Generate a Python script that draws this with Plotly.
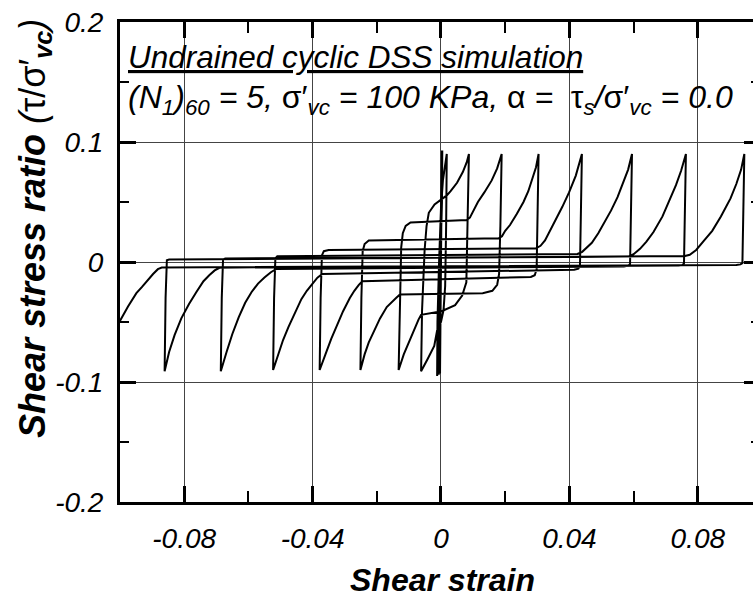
import plotly.graph_objects as go

# ---- data: shear strain vs shear stress ratio ----
# one line per half-cycle
strain = [
    0.0000, 0.0001, 0.0002, 0.0003,
    0.0002, 0.0000, -0.0002, -0.0003,
    -0.0002, 0.0000, 0.0002, 0.0003,
    0.0002, -0.0001, -0.0003, -0.0005,
    -0.0004, -0.0001, 0.0002, 0.0003,
    0.0002, -0.0002, -0.0005, -0.0007,
    -0.0006, -0.0002, 0.0002, 0.0004,
    0.0003, -0.0002, -0.0006, -0.0009,
    -0.0008, -0.0003, 0.0001, 0.0004,
    0.0003, -0.0003, -0.0008, -0.0012,
    -0.0011, -0.0006, 0.0000, 0.0006, 0.0012, 0.0018,
    0.0016, 0.0013, 0.0008, 0.0000, -0.0012, -0.0021, -0.0042, -0.0062,
    -0.0059, -0.0056, -0.0051, -0.0045, -0.0038, -0.0020, 0.0003, 0.0018, 0.0030, 0.0050, 0.0068, 0.0080, 0.0087,
    0.0083, 0.0081, 0.0079, 0.0066, 0.0044, 0.0002, -0.0062, -0.0070, -0.0085, -0.0100, -0.0116, -0.0132,
    -0.0128, -0.0126, -0.0124, -0.0119, -0.0110, -0.0095, 0.0080, 0.0090, 0.0100, 0.0115, 0.0135, 0.0158, 0.0175, 0.0189,
    0.0185, 0.0183, 0.0181, 0.0175, 0.0160, 0.0130, -0.0128, -0.0140, -0.0152, -0.0169, -0.0190, -0.0210, -0.0225, -0.0238, -0.0251,
    -0.0248, -0.0246, -0.0244, -0.0238, -0.0225, 0.0180, 0.0190, 0.0200, 0.0215, 0.0236, 0.0257, 0.0272, 0.0285, 0.0296, 0.0304,
    0.0300, 0.0299, 0.0298, 0.0292, 0.0280, -0.0245, -0.0256, -0.0270, -0.0284, -0.0305, -0.0325, -0.0342, -0.0360, -0.0378,
    -0.0375, -0.0373, -0.0371, -0.0365, -0.0350, 0.0296, 0.0310, 0.0324, 0.0340, 0.0358, 0.0378, 0.0399, 0.0420, 0.0439,
    0.0435, 0.0434, 0.0433, 0.0428, 0.0415, -0.0370, -0.0385, -0.0400, -0.0418, -0.0435, -0.0455, -0.0475, -0.0492, -0.0508, -0.0523,
    -0.0520, -0.0518, -0.0516, -0.0510, 0.0425, 0.0440, 0.0455, 0.0470, 0.0490, 0.0510, 0.0530, 0.0550, 0.0568, 0.0583, 0.0595,
    0.0591, 0.0590, 0.0589, 0.0584, 0.0570, -0.0513, -0.0530, -0.0550, -0.0570, -0.0590, -0.0610, -0.0630, -0.0650, -0.0668, -0.0686,
    -0.0683, -0.0681, -0.0679, -0.0672, 0.0584, 0.0600, 0.0620, 0.0640, 0.0662, 0.0690, 0.0714, 0.0732, 0.0748, 0.0763,
    0.0759, 0.0758, 0.0757, 0.0752, 0.0740, -0.0690, -0.0705, -0.0722, -0.0740, -0.0762, -0.0785, -0.0809, -0.0830, -0.0847, -0.0861,
    -0.0858, -0.0856, -0.0854, -0.0847, 0.0760, 0.0775, 0.0795, 0.0820, 0.0845, 0.0872, 0.0902, 0.0920, 0.0935, 0.0945,
    0.0941, 0.0940, 0.0939, 0.0933, 0.0920, -0.0870, -0.0882, -0.0897, -0.0915, -0.0932, -0.0949, -0.0975, -0.1002, -0.1030,
]
stress = [
    0.000, 0.045, 0.075, 0.093,
    0.050, 0.000, -0.050, -0.093,
    -0.050, 0.000, 0.050, 0.093,
    0.050, 0.000, -0.050, -0.093,
    -0.050, 0.000, 0.050, 0.093,
    0.050, 0.000, -0.050, -0.094,
    -0.050, 0.000, 0.050, 0.093,
    0.050, 0.000, -0.050, -0.094,
    -0.050, 0.000, 0.050, 0.093,
    0.050, 0.000, -0.050, -0.095,
    -0.050, 0.000, 0.045, 0.068, 0.081, 0.090,
    0.030, -0.020, -0.040, -0.050, -0.057, -0.070, -0.081, -0.091,
    -0.040, -0.015, 0.010, 0.030, 0.041, 0.048, 0.053, 0.0555, 0.059, 0.066, 0.075, 0.083, 0.090,
    0.030, -0.010, -0.017, -0.028, -0.036, -0.041, -0.044, -0.048, -0.057, -0.066, -0.077, -0.090,
    -0.030, 0.000, 0.012, 0.024, 0.030, 0.033, 0.035, 0.037, 0.042, 0.050, 0.058, 0.068, 0.078, 0.090,
    0.030, 0.000, -0.010, -0.019, -0.024, -0.026, -0.027, -0.030, -0.033, -0.0375, -0.047, -0.058, -0.067, -0.077, -0.090,
    -0.030, 0.000, 0.009, 0.015, 0.018, 0.0197, 0.0215, 0.026, 0.0308, 0.040, 0.050, 0.059, 0.069, 0.079, 0.090,
    0.030, 0.000, -0.006, -0.011, -0.0125, -0.016, -0.019, -0.024, -0.030, -0.041, -0.053, -0.064, -0.077, -0.090,
    -0.030, 0.000, 0.0055, 0.009, 0.010, 0.0114, 0.0135, 0.018, 0.026, 0.035, 0.046, 0.058, 0.072, 0.090,
    0.030, 0.000, -0.003, -0.0055, -0.0065, -0.010, -0.013, -0.018, -0.024, -0.031, -0.042, -0.054, -0.065, -0.077, -0.090,
    -0.030, 0.000, 0.003, 0.0048, 0.0067, 0.0085, 0.012, 0.016, 0.024, 0.033, 0.043, 0.054, 0.066, 0.077, 0.090,
    0.030, 0.000, -0.0015, -0.003, -0.0038, -0.0058, -0.0085, -0.013, -0.018, -0.025, -0.034, -0.046, -0.060, -0.075, -0.091,
    -0.030, 0.000, 0.0022, 0.0030, 0.0044, 0.0065, 0.011, 0.017, 0.025, 0.038, 0.052, 0.064, 0.076, 0.090,
    0.030, 0.000, -0.0012, -0.0025, -0.0030, -0.0048, -0.007, -0.011, -0.016, -0.025, -0.035, -0.047, -0.061, -0.075, -0.091,
    -0.030, 0.000, 0.0014, 0.0020, 0.0050, 0.0060, 0.0100, 0.018, 0.026, 0.038, 0.053, 0.065, 0.077, 0.090,
    0.030, 0.000, -0.001, -0.002, -0.0025, -0.0046, -0.006, -0.010, -0.016, -0.021, -0.026, -0.037, -0.050, -0.066,
]

x_tick_vals = [-0.08, -0.04, 0, 0.04, 0.08]
x_tick_text = ["-0.08", "-0.04", "0", "0.04", "0.08"]
x_minor_vals = [-0.06, -0.02, 0.02, 0.06]
y_tick_vals = [-0.2, -0.1, 0, 0.1, 0.2]
y_tick_text = ["-0.2", "-0.1", "0", "0.1", "0.2"]
y_minor_vals = [-0.15, -0.05, 0.05, 0.15]
y_right_vals = [-0.1, 0, 0.1]

FONT = "Liberation Sans, Arial, sans-serif"
N = "<span style='font-style:normal'>"

fig = go.Figure()
fig.add_trace(go.Scatter(x=strain, y=stress, mode="lines",
                         line=dict(color="black", width=2),
                         hoverinfo="skip", showlegend=False))
fig.add_trace(go.Scatter(x=[], y=[], yaxis="y2", showlegend=False, hoverinfo="skip"))

fig.update_layout(
    width=753, height=600,
    margin=dict(l=120, r=0, t=22, b=98),
    paper_bgcolor="white", plot_bgcolor="white",
    xaxis=dict(
        range=[-0.1, 0.0972], tickvals=x_tick_vals, ticktext=x_tick_text,
        ticks="inside", ticklen=16, tickwidth=2.5, tickcolor="black",
        showline=True, linewidth=3, linecolor="black", mirror="ticks",
        showgrid=True, gridcolor="#444", gridwidth=1, zeroline=False,
        tickfont=dict(family=FONT, size=28, color="black", style="italic"),
        ticklabelstandoff=9,
        minor=dict(tickvals=x_minor_vals, ticks="inside", ticklen=11,
                   tickwidth=2, tickcolor="black", showgrid=False),
    ),
    yaxis=dict(
        range=[-0.2, 0.2], tickvals=y_tick_vals, ticktext=y_tick_text,
        ticks="inside", ticklen=16, tickwidth=2.5, tickcolor="black",
        showline=True, linewidth=3, linecolor="black", mirror=False,
        showgrid=True, gridcolor="#444", gridwidth=1, zeroline=False,
        tickfont=dict(family=FONT, size=28, color="black", style="italic"),
        ticklabelstandoff=8,
        minor=dict(tickvals=y_minor_vals, ticks="inside", ticklen=9,
                   tickwidth=2, tickcolor="black", showgrid=False),
    ),
    yaxis2=dict(
        overlaying="y", side="right", range=[-0.2, 0.2],
        tickvals=y_right_vals, ticks="inside", ticklen=9, tickwidth=3,
        tickcolor="black", showticklabels=False, showgrid=False,
        zeroline=False, showline=False,
        minor=dict(tickvals=y_minor_vals, ticks="inside", ticklen=2,
                   tickwidth=2, tickcolor="black", showgrid=False),
    ),
    annotations=[
        dict(text="<u>Undrained cyclic DSS simulation</u>",
             xref="paper", yref="paper", x=0.0095, y=0.927,
             xanchor="left", yanchor="middle", showarrow=False,
             font=dict(family=FONT, size=31.5, color="black", style="italic")),
        dict(text="(N<sub>1</sub>)<sub>60</sub> = 5, " + N + "σ′</span><sub>vc</sub> = 100 KPa, "
                  + N + "α</span> =\u00a0 " + N + "τ</span><sub>s</sub>/" + N + "σ′</span><sub>vc</sub> = 0.0",
             xref="paper", yref="paper", x=0.0095, y=0.8375,
             xanchor="left", yanchor="middle", showarrow=False,
             font=dict(family=FONT, size=32, color="black", style="italic")),
        dict(text="<b><i>Shear strain</i></b>",
             xref="paper", yref="paper", x=0.5087, y=-0.1625,
             xanchor="center", yanchor="middle", showarrow=False,
             font=dict(family=FONT, size=32, color="black")),
        dict(text="<b><i>Shear stress ratio</i></b> <i>(</i>τ/σ′<sub><b><i>vc</i></b></sub><i>)</i>",
             xref="paper", yref="paper", x=-0.1343, y=0.13, textangle=-90,
             xanchor="center", yanchor="bottom", showarrow=False,
             font=dict(family=FONT, size=36, color="black")),
    ],
)

fig.write_html("out.html")
